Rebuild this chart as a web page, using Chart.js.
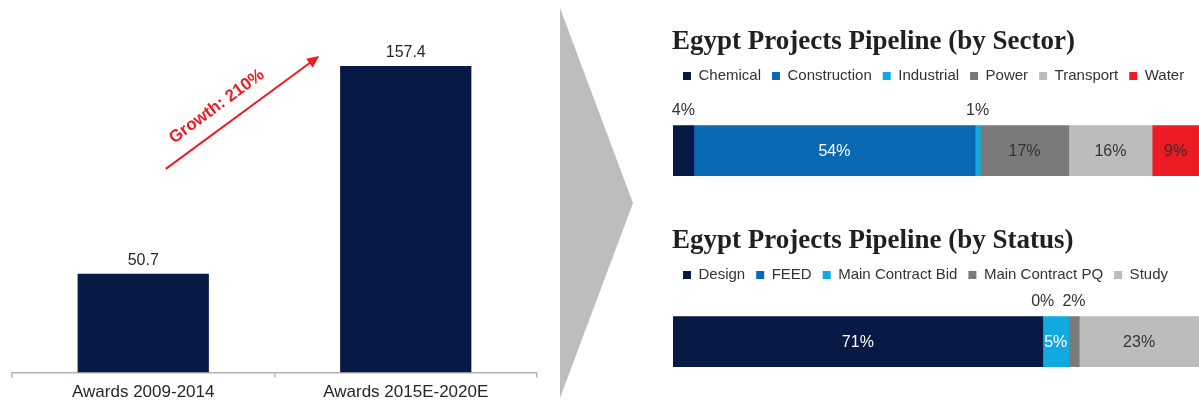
<!DOCTYPE html>
<html>
<head>
<meta charset="utf-8">
<title>Egypt Projects Pipeline</title>
<script src="https://cdn.jsdelivr.net/npm/chart.js@4.4.1/dist/chart.umd.min.js"></script>
<style>
  html, body { margin: 0; padding: 0; background: #fff; overflow: hidden; }
  body { width: 1199px; height: 400px; position: relative; }
  .box { position: absolute; }
  #awards-box { left: 0; top: 0; width: 550px; height: 408px; }
  #sector-box { left: 660px; top: 0; width: 539px; height: 208px; }
  #status-box { left: 660px; top: 200px; width: 539px; height: 200px; }
  #chevron {
    position: absolute; left: 560px; top: 8px; width: 73px; height: 390px;
    background: #bdbdbd; clip-path: polygon(0 0, 100% 50%, 0 100%);
  }
</style>
</head>
<body>
<div class="box" id="awards-box"><canvas id="awards-chart"></canvas></div>
<div id="chevron"></div>
<div class="box" id="sector-box"><canvas id="sector-chart"></canvas></div>
<div class="box" id="status-box"><canvas id="status-chart"></canvas></div>

<script>
// ---- data ----
const awardLabels = ['Awards 2009-2014', 'Awards 2015E-2020E'];
const awardValues = [50.7, 157.4];
const growthText = 'Growth: 210%';

const sectorNames = ['Chemical', 'Construction', 'Industrial', 'Power', 'Transport', 'Water'];
const sectorShares = [4, 54, 1, 17, 16, 9];

const statusNames = ['Design', 'FEED', 'Main Contract Bid', 'Main Contract PQ', 'Study'];
const statusShares = [71, 0, 5, 2, 23];

// ---- styling ----
const NAVY = '#071944';
const sectorColors = [NAVY, '#0a69b5', '#12a9e1', '#7a7a78', '#bcbcbb', '#ed1c24'];
const sectorTextColors = ['#fff', '#fff', '#fff', '#333', '#333', '#333'];
const statusColors = [NAVY, '#0a69b5', '#12a9e1', '#7a7a78', '#bcbcbb'];
const statusTextColors = ['#fff', '#fff', '#fff', '#fff', '#333'];

const SANS = '"Liberation Sans", Arial, Helvetica, sans-serif';
const SERIF = '"Liberation Serif", "Times New Roman", serif';

// growth arrow, in data units (category index, value)
const arrowFrom = [0.086, 104.6];
const arrowTo = [0.67, 162.5];

// value labels on top of the award bars
const barValueLabels = {
    id: 'barValueLabels',
    afterDatasetsDraw(chart) {
        const ctx = chart.ctx;
        const meta = chart.getDatasetMeta(0);
        ctx.save();
        ctx.font = '16px ' + SANS;
        ctx.fillStyle = '#262626';
        ctx.textAlign = 'center';
        ctx.textBaseline = 'alphabetic';
        meta.data.forEach((bar, i) => {
            ctx.fillText(String(chart.data.datasets[0].data[i]), bar.x, bar.y - 9);
        });
        ctx.restore();
    }
};

// red growth arrow with rotated caption
const growthArrow = {
    id: 'growthArrow',
    afterDatasetsDraw(chart) {
        const { ctx, scales: { x, y } } = chart;
        const x0 = x.getPixelForValue(arrowFrom[0]), y0 = y.getPixelForValue(arrowFrom[1]);
        const x1 = x.getPixelForValue(arrowTo[0]), y1 = y.getPixelForValue(arrowTo[1]);
        const ang = Math.atan2(y1 - y0, x1 - x0);
        const len = Math.hypot(x1 - x0, y1 - y0);
        const red = '#ed1c24';

        ctx.save();
        ctx.translate(x0, y0);
        ctx.rotate(ang);
        ctx.strokeStyle = red;
        ctx.fillStyle = red;
        ctx.lineWidth = 2;
        ctx.beginPath();
        ctx.moveTo(0, 0);
        ctx.lineTo(len - 10, 0);
        ctx.stroke();
        ctx.beginPath();
        ctx.moveTo(len, 0);
        ctx.lineTo(len - 12, -5.5);
        ctx.lineTo(len - 12, 5.5);
        ctx.closePath();
        ctx.fill();

        ctx.font = 'bold 17px ' + SANS;
        ctx.textAlign = 'center';
        ctx.textBaseline = 'middle';
        ctx.fillText(growthText, len * 0.41, -20);
        ctx.restore();
    }
};

// percentage labels for stacked segments; too-narrow ones go above the bar
const segmentLabels = {
    id: 'segmentLabels',
    afterDatasetsDraw(chart) {
        const ctx = chart.ctx;
        ctx.save();
        ctx.font = '16px ' + SANS;
        ctx.textAlign = 'center';
        ctx.textBaseline = 'middle';
        chart.data.datasets.forEach((ds, i) => {
            const bar = chart.getDatasetMeta(i).data[0];
            if (!bar) return;
            const text = ds.data[0] + '%';
            const left = Math.min(bar.x, bar.base), right = Math.max(bar.x, bar.base);
            const cx = (left + right) / 2;
            if (ctx.measureText(text).width + 2 <= right - left) {
                ctx.fillStyle = ds.labelColor;
                ctx.fillText(text, cx, bar.y + 1);
            } else {
                ctx.fillStyle = '#333';
                ctx.fillText(text, cx, bar.y - bar.height / 2 - 15);
            }
        });
        ctx.restore();
    }
};

new Chart(document.getElementById('awards-chart'), {
    type: 'bar',
    data: {
        labels: awardLabels,
        datasets: [{
            data: awardValues,
            backgroundColor: NAVY,
            categoryPercentage: 1,
            barPercentage: 0.5
        }]
    },
    options: {
        responsive: true,
        maintainAspectRatio: false,
        animation: false,
        layout: { padding: { left: 12, right: 13, top: 22, bottom: 0 } },
        scales: {
            x: {
                grid: { offset: true, drawOnChartArea: false, tickLength: 5, color: '#b3b3b3', lineWidth: 1.5 },
                border: { color: '#b3b3b3', width: 1.5 },
                ticks: { color: '#262626', font: { family: SANS, size: 17 }, padding: 5 }
            },
            y: { display: false, min: 0, max: 180 }
        },
        plugins: { legend: { display: false }, tooltip: { enabled: false } }
    },
    plugins: [barValueLabels, growthArrow]
});

function pipelineChart(canvasId, titleText, names, shares, colors, textColors, padTop, padBottom) {
    return new Chart(document.getElementById(canvasId), {
        type: 'bar',
        data: {
            labels: [''],
            datasets: names.map((name, i) => ({
                label: name,
                data: [shares[i]],
                backgroundColor: colors[i],
                labelColor: textColors[i],
                barThickness: 50
            }))
        },
        options: {
            indexAxis: 'y',
            responsive: true,
            maintainAspectRatio: false,
            animation: false,
            layout: { padding: { left: 12, right: 0, top: 0, bottom: padBottom } },
            scales: {
                x: { display: false, stacked: true, min: 0, max: shares.reduce((a, b) => a + b, 0) },
                y: {
                    stacked: true,
                    grid: { display: false },
                    border: { display: false },
                    ticks: { display: false },
                    afterFit(scale) { scale.width = 1; }
                }
            },
            plugins: {
                title: {
                    display: true,
                    text: titleText,
                    align: 'start',
                    color: '#231f20',
                    font: { family: SERIF, size: 27, weight: 'bold' },
                    padding: { top: padTop, bottom: -1 }
                },
                legend: {
                    display: true,
                    align: 'start',
                    labels: {
                        boxWidth: 8,
                        boxHeight: 8,
                        padding: 11,
                        color: '#333',
                        font: { family: SANS, size: 15 }
                    }
                },
                tooltip: { enabled: false }
            }
        },
        plugins: [segmentLabels]
    });
}

pipelineChart('sector-chart', 'Egypt Projects Pipeline (by Sector)',
    sectorNames, sectorShares, sectorColors, sectorTextColors, 26, 0);
pipelineChart('status-chart', 'Egypt Projects Pipeline (by Status)',
    statusNames, statusShares, statusColors, statusTextColors, 25, 9);
</script>
</body>
</html>
